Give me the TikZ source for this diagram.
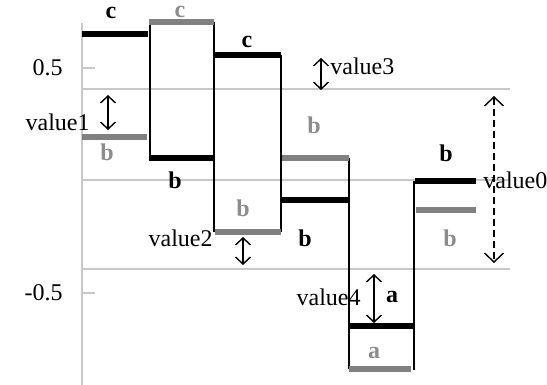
\documentclass[tikz,border=0pt]{standalone}
\usepackage{fontspec}
\setmainfont{Liberation Serif}
\usetikzlibrary{arrows.meta}
\definecolor{bargray}{RGB}{128,128,128}
\definecolor{labgray}{RGB}{140,140,140}
\definecolor{gridgray}{RGB}{200,200,200}
\tikzset{
  grid line/.style={draw=gridgray, line width=0.7pt},
  bbar/.style={draw=black, line width=3.2pt},
  gbar/.style={draw=bargray, line width=3.2pt},
  vline/.style={draw=black, line width=0.9pt},
  dblarrow/.style={draw=black, line width=0.7pt, {Straight Barb[length=3.5pt,width=7.5pt]}-{Straight Barb[length=3.5pt,width=7.5pt]}},
  blab/.style={font=\fontsize{12}{14}\selectfont\bfseries, text=black, inner sep=0pt},
  glab/.style={font=\fontsize{12}{14}\selectfont\bfseries, text=labgray, inner sep=0pt},
  vlab/.style={font=\fontsize{12}{14}\selectfont, inner sep=0pt},
}
\begin{document}
\begin{tikzpicture}[x=0.5pt,y=-0.5pt]
\useasboundingbox (0,0) rectangle (547,385);
% grid and axis
\draw[grid line] (82,89) -- (510,89);
\draw[grid line] (82,180) -- (510,180);
\draw[grid line] (82,269) -- (510,269);
\draw[grid line] (82,23) -- (82,385);
\draw[grid line] (82,68) -- (95,68);
\draw[grid line] (82,293) -- (95,293);
\node[vlab, anchor=east] (t05) at (63,68) {0.5};
\node[vlab, anchor=east] (tm05) at (63,293) {-0.5};
% vertical connectors
\draw[vline] (150,22) -- (150,158);
\draw[vline] (214,22) -- (214,232);
\draw[vline] (281,55) -- (281,232);
\draw[vline] (349,158) -- (349,369);
\draw[vline] (414,181) -- (414,370);
% bars
\draw[bbar] (82,34) -- (148,34);
\draw[gbar] (82,137) -- (147,137);
\draw[gbar] (149,22) -- (214,22);
\draw[bbar] (149,158) -- (215,158);
\draw[bbar] (214,55) -- (281,55);
\draw[gbar] (215,232) -- (281,232);
\draw[gbar] (282,158) -- (349,158);
\draw[bbar] (281,200) -- (349,200);
\draw[bbar] (349,326) -- (414,326);
\draw[gbar] (349,369) -- (411,369);
\draw[bbar] (415,181) -- (476,181);
\draw[gbar] (416,210) -- (476,210);
% bar labels
\node[blab] (l1) at (111,13) {c};
\node[glab] (l2) at (107,152) {b};
\node[glab] (l3) at (180,12) {c};
\node[blab] (l4) at (175,180) {b};
\node[blab] (l5) at (247,42) {c};
\node[glab] (l6) at (243,208) {b};
\node[glab] (l7) at (314,125) {b};
\node[blab] (l8) at (305,238) {b};
\node[blab] (l9) at (392,297) {a};
\node[glab] (l10) at (374,353) {a};
\node[blab] (l11) at (446,153) {b};
\node[glab] (l12) at (450,238) {b};
% value arrows
\coordinate (v1a) at (108,95); \coordinate (v1b) at (108,130);
\draw[dblarrow] (v1a) -- (v1b);
\coordinate (v3a) at (321,58); \coordinate (v3b) at (321,90);
\draw[dblarrow] (v3a) -- (v3b);
\coordinate (v2a) at (243,237); \coordinate (v2b) at (243,265);
\draw[dblarrow] (v2a) -- (v2b);
\coordinate (v4a) at (374,274); \coordinate (v4b) at (374,323);
\draw[dblarrow] (v4a) -- (v4b);
\coordinate (v0a) at (494,96); \coordinate (v0b) at (494,263);
\draw[dblarrow, dash pattern=on 3.5pt off 2pt, {Straight Barb[length=4.5pt,width=9.5pt]}-{Straight Barb[length=4.5pt,width=9.5pt]}] (v0a) -- (v0b);
% value labels
\node[vlab, anchor=east] (n1) at (90,122) {value1};
\node[vlab, anchor=west] (n3) at (330,66) {value3};
\node[vlab, anchor=east] (n2) at (213,238) {value2};
\node[vlab, anchor=east] (n4) at (361,297) {value4};
\node[vlab, anchor=west] (n0) at (483,180) {value0};
\end{tikzpicture}
\end{document}
